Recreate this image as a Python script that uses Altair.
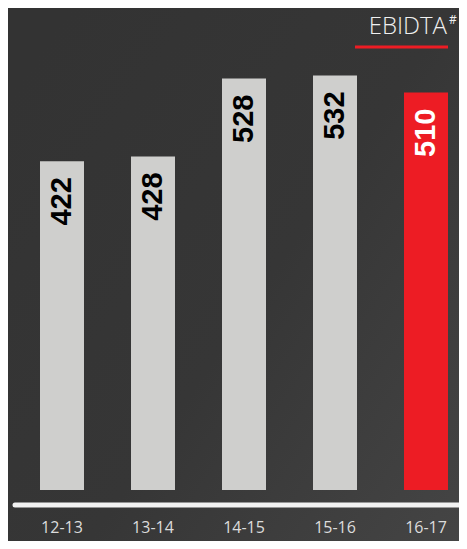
import altair as alt
import pandas as pd

years = ["12-13", "13-14", "14-15", "15-16", "16-17"]
values = [422, 428, 528, 532, 510]
latest = "16-17"
title_main = "EBIDTA"
title_mark = "#"

df = pd.DataFrame({"year": years, "value": values})
df["latest"] = df["year"] == latest

W, H = 467, 549

xscale = alt.Scale(domain=years, range=[17.25, 470.75], paddingInner=0.5165, paddingOuter=0.25)
yscale = alt.Scale(domain=[0, 600], range=[490, 22.42])

bg = alt.Chart(pd.DataFrame({"a": [0]})).mark_rect(
    color=alt.Gradient(
        gradient="linear",
        stops=[alt.GradientStop(color="#333333", offset=0),
               alt.GradientStop(color="#363636", offset=0.5),
               alt.GradientStop(color="#454545", offset=1)],
        x1=0, y1=0.2, x2=1, y2=1,
    )
).encode(x=alt.value(0), x2=alt.value(W), y=alt.value(0), y2=alt.value(H))

base = alt.Chart(df)

bars = base.mark_bar(size=44).encode(
    x=alt.X("year:N", scale=xscale, axis=None),
    y=alt.Y("value:Q", scale=yscale, axis=None),
    color=alt.Color("latest:N", scale=alt.Scale(domain=[False, True], range=["#cfcfcd", "#ed1c24"]), legend=None),
)

labels = base.mark_text(
    angle=270, align="right", baseline="middle", dx=-16,
    font="Liberation Sans", fontWeight="bold", fontSize=29,
).encode(
    x=alt.X("year:N", scale=xscale, axis=None),
    y=alt.Y("value:Q", scale=yscale, axis=None),
    text=alt.Text("value:Q"),
    color=alt.condition(alt.datum.latest, alt.value("#ffffff"), alt.value("#000000")),
)

xlabels = base.mark_text(
    font="Open Sans", fontSize=16, color="#dcdcdc", baseline="middle",
).encode(
    x=alt.X("year:N", scale=xscale, axis=None),
    y=alt.value(528),
    text="year:N",
)

baseline = alt.Chart(pd.DataFrame({"a": [0]})).mark_rule(
    color="#f2f2f2", strokeWidth=5, strokeCap="round"
).encode(x=alt.value(15), x2=alt.value(W + 10), y=alt.value(505))

title1 = alt.Chart(pd.DataFrame({"t": [title_main]})).mark_text(
    font="Open Sans", fontSize=24, fontWeight=300, color="#f0f0f0",
    align="right", baseline="alphabetic",
).encode(x=alt.value(447), y=alt.value(34), text="t:N")

title2 = alt.Chart(pd.DataFrame({"t": [title_mark]})).mark_text(
    font="Open Sans", fontSize=12, color="#f0f0f0", align="left", baseline="top",
).encode(x=alt.value(449), y=alt.value(15), text="t:N")

underline = alt.Chart(pd.DataFrame({"a": [0]})).mark_rule(
    color="#ed1c24", strokeWidth=3
).encode(x=alt.value(355), x2=alt.value(448), y=alt.value(47))

chart = alt.layer(bg, bars, labels, xlabels, baseline, title1, title2, underline).properties(
    width=W, height=H, padding={"left": -8, "top": -8, "right": -8, "bottom": -8},
    background="#383838",
    autosize=alt.AutoSizeParams(type="none"),
).configure_view(stroke=None)

chart.save("out.html", embed_options={"renderer": "svg", "actions": False})
